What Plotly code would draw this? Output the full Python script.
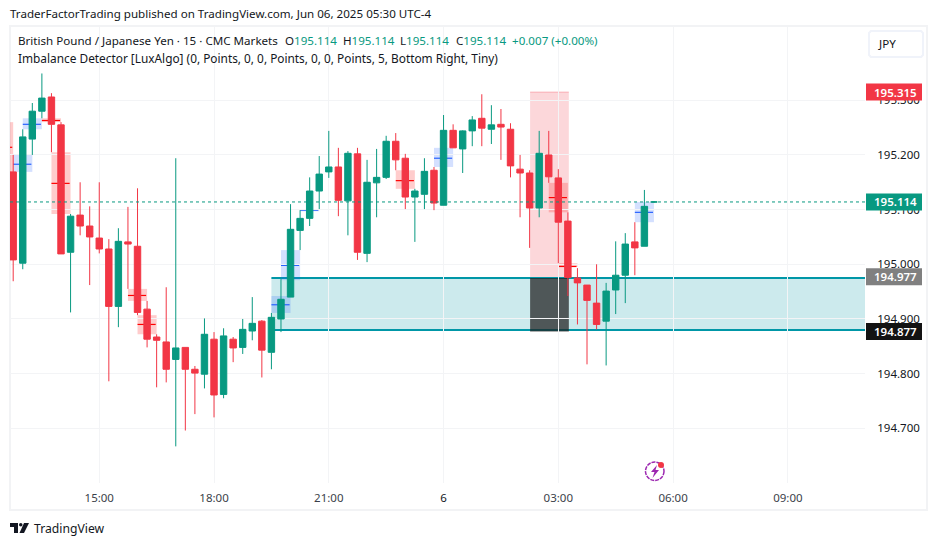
import pandas as pd
import plotly.graph_objects as go

# 15 minute bars, first one at 12:45
start_time = "2025-06-05 12:45"

opens = [195.169, 195.002, 195.229, 195.280, 195.306, 195.255, 195.022, 195.090, 195.070, 195.048,
         195.028, 194.923, 195.041, 195.033, 194.918, 194.867, 194.858, 194.826, 194.848, 194.808,
         194.799, 194.863, 194.762, 194.863, 194.848, 194.878, 194.896, 194.839, 194.900, 194.940,
         195.062, 195.084, 195.134, 195.169, 195.178, 195.116, 195.202, 195.020, 195.149, 195.159,
         195.225, 195.194, 195.123, 195.128, 195.172, 195.108, 195.245, 195.211, 195.244, 195.267,
         195.247, 195.256, 195.247, 195.174, 195.167, 195.103, 195.200, 195.158, 195.079, 194.975,
         194.962, 194.929, 194.896, 194.953, 194.980, 195.041, 195.033, 195.114]
highs = [195.200, 195.247, 195.295, 195.349, 195.313, 195.260, 195.092, 195.150, 195.106, 195.150,
         195.046, 195.066, 195.105, 195.139, 194.933, 194.872, 194.958, 195.194, 194.848, 194.814,
         194.901, 194.876, 194.883, 194.867, 194.900, 194.940, 194.898, 194.911, 194.973, 195.110,
         195.099, 195.159, 195.198, 195.244, 195.213, 195.207, 195.213, 195.191, 195.211, 195.235,
         195.240, 195.202, 195.138, 195.194, 195.178, 195.273, 195.256, 195.245, 195.271, 195.311,
         195.291, 195.284, 195.258, 195.200, 195.172, 195.244, 195.244, 195.174, 195.095, 194.993,
         194.962, 195.000, 194.966, 195.042, 195.057, 195.077, 195.136, 195.114]
lows = [194.969, 194.991, 195.200, 195.267, 195.205, 195.019, 194.912, 195.053, 194.962, 195.020,
        194.786, 194.885, 194.955, 194.907, 194.848, 194.775, 194.784, 194.667, 194.696, 194.726,
        194.773, 194.720, 194.755, 194.821, 194.836, 194.861, 194.793, 194.808, 194.876, 194.940,
        195.026, 195.070, 195.101, 195.158, 195.088, 195.053, 195.008, 195.004, 195.086, 195.156,
        195.172, 195.101, 195.041, 195.101, 195.099, 195.108, 195.213, 195.167, 195.216, 195.216,
        195.220, 195.191, 195.159, 195.086, 195.030, 195.086, 195.149, 195.002, 194.942, 194.890,
        194.817, 194.881, 194.815, 194.909, 194.929, 194.980, 195.033, 195.114]
closes = [195.008, 195.233, 195.280, 195.304, 195.256, 195.019, 195.088, 195.070, 195.050, 195.028,
          194.923, 195.042, 195.037, 194.912, 194.863, 194.861, 194.808, 194.847, 194.808, 194.801,
          194.872, 194.761, 194.869, 194.847, 194.881, 194.892, 194.843, 194.903, 194.936, 195.064,
          195.084, 195.134, 195.165, 195.178, 195.117, 195.203, 195.022, 195.150, 195.159, 195.225,
          195.191, 195.123, 195.134, 195.170, 195.112, 195.245, 195.213, 195.244, 195.264, 195.249,
          195.255, 195.251, 195.180, 195.167, 195.103, 195.203, 195.160, 195.077, 194.976, 194.966,
          194.934, 194.890, 194.951, 194.980, 195.037, 195.030, 195.106, 195.114]

# imbalance boxes: first bar, bottom, top, middle
blue_bars = [0, 1, 27, 28, 30, 44, 65]
blue_low = [195.169, 195.247, 194.911, 194.971, 195.097, 195.178, 195.077]
blue_high = [195.200, 195.267, 194.942, 195.026, 195.100, 195.213, 195.114]
blue_mid = [195.183, 195.256, 194.926, 194.998, 195.099, 195.194, 195.095]

red_bars = [-2, 3, 4, 12, 13, 40, 56, 57]
red_low = [195.167, 195.260, 195.092, 194.933, 194.872, 195.138, 195.095, 194.995]
red_high = [195.260, 195.267, 195.205, 194.955, 194.907, 195.172, 195.149, 195.002]
red_mid = [195.214, 195.263, 195.148, 194.943, 194.890, 195.153, 195.122, 194.996]

zone_low = 194.880
zone_high = 194.975
dark_low = 194.877
pink_high = 195.315
zone_start_bar = 27
pink_start_bar = 54.05
pink_end_bar = 58.1

last_price = 195.114
price_ticks = [194.7, 194.8, 194.9, 195.0, 195.1, 195.2, 195.3]
time_ticks = ["2025-06-05 15:00", "2025-06-05 18:00", "2025-06-05 21:00", "2025-06-06 00:00",
              "2025-06-06 03:00", "2025-06-06 06:00", "2025-06-06 09:00"]
time_labels = ["15:00", "18:00", "21:00", "<span style='color:#131722'>6</span>", "03:00", "06:00", "09:00"]
tag_prices = [195.315, 195.114, 194.977, 194.877]
tag_colors = ["#f23645", "#089981", "#808080", "#131313"]
tag_labels = ["195.315", "195.114", "194.977", "194.877"]

UP = "#089981"
DOWN = "#f23645"
FONT = "Noto Sans"
L, R, T, B = 10, 865, 27, 483


def bar_time(i):
    return pd.Timestamp(start_time) + pd.Timedelta(minutes=15 * i)


def px(x):
    return (x - L) / (R - L)


def py(y):
    return (B - y) / (B - T)


def page_path(points):
    out = "M " + " L ".join(f"{px(a):.5f},{py(b):.5f}" for a, b in points)
    return out + " Z"


def label(x, y, text, size=11.6, color="#131722", anchor="left"):
    return dict(x=px(x), y=py(y), xref="paper", yref="paper", text=text, showarrow=False,
                xanchor=anchor, yanchor="middle", font=dict(family=FONT, size=size, color=color),
                borderpad=0, borderwidth=0)


fig = go.Figure()
fig.add_trace(go.Candlestick(
    x=[bar_time(i) for i in range(len(opens))],
    open=opens, high=highs, low=lows, close=closes,
    increasing=dict(line=dict(color=UP, width=1), fillcolor=UP),
    decreasing=dict(line=dict(color=DOWN, width=1), fillcolor=DOWN),
    whiskerwidth=0,
))

shapes = []

# big imbalance area
shapes.append(dict(type="rect", layer="below", xref="x", yref="y",
                   x0=bar_time(zone_start_bar), x1=bar_time(100), y0=zone_low, y1=zone_high,
                   fillcolor="rgba(0,151,167,0.2)", line_width=0))
shapes.append(dict(type="rect", layer="below", xref="x", yref="y",
                   x0=bar_time(pink_start_bar), x1=bar_time(pink_end_bar), y0=zone_high, y1=pink_high,
                   fillcolor="rgba(242,54,69,0.2)", line_width=0))
shapes.append(dict(type="line", layer="below", xref="x", yref="y",
                   x0=bar_time(pink_start_bar), x1=bar_time(pink_end_bar), y0=pink_high, y1=pink_high,
                   line=dict(color="rgba(242,54,69,0.3)", width=1)))
for lvl in [zone_low, zone_high]:
    shapes.append(dict(type="line", layer="below", xref="x", yref="y",
                       x0=bar_time(zone_start_bar), x1=bar_time(100), y0=lvl, y1=lvl,
                       line=dict(color="#0097a7", width=2)))
shapes.append(dict(type="rect", layer="below", xref="x", yref="y",
                   x0=bar_time(pink_start_bar), x1=bar_time(pink_end_bar), y0=dark_low, y1=zone_high,
                   fillcolor="rgba(30,30,30,0.72)", line_width=0))

# small boxes with their middle line
for bar, lo, hi, mid in zip(blue_bars, blue_low, blue_high, blue_mid):
    shapes.append(dict(type="rect", layer="below", xref="x", yref="y", x0=bar_time(bar), x1=bar_time(bar + 2),
                       y0=lo, y1=hi, fillcolor="rgba(41,98,255,0.2)", line_width=0))
    shapes.append(dict(type="line", layer="below", xref="x", yref="y", x0=bar_time(bar), x1=bar_time(bar + 1.9),
                       y0=mid, y1=mid, line=dict(color="#2962ff", width=1.2)))
for bar, lo, hi, mid in zip(red_bars, red_low, red_high, red_mid):
    shapes.append(dict(type="rect", layer="below", xref="x", yref="y", x0=bar_time(bar), x1=bar_time(bar + 2),
                       y0=lo, y1=hi, fillcolor="rgba(255,0,0,0.2)", line_width=0))
    shapes.append(dict(type="line", layer="below", xref="x", yref="y", x0=bar_time(bar), x1=bar_time(bar + 1.9),
                       y0=mid, y1=mid, line=dict(color="#ff0000", width=1.2)))

# last price line
shapes.append(dict(type="line", layer="above", xref="paper", yref="y", x0=0, x1=1, y0=last_price, y1=last_price,
                   line=dict(color=UP, width=1, dash="dot")))

# frame around the chart, and the currency button
shapes.append(dict(type="rect", xref="paper", yref="paper", x0=px(10), x1=px(927), y0=py(510), y1=py(26),
                   line=dict(color="#f2f3f5", width=2), layer="below"))
shapes.append(dict(type="path", xref="paper", yref="paper", line=dict(color="#f0f3fa", width=2),
                   path=page_path([(871, 31), (921, 31), (923, 33), (923, 55), (921, 57), (871, 57), (869, 55), (869, 33)])))

# price tags on the axis
for price, col in zip(tag_prices, tag_colors):
    shapes.append(dict(type="rect", layer="above", xref="paper", yref="y", ysizemode="pixel", yanchor=price,
                       x0=px(866), x1=px(922), y0=-8.5, y1=8.5, fillcolor=col, line_width=0))

# lightning icon
shapes.append(dict(type="circle", xref="paper", yref="paper", x0=px(645.5), x1=px(664), y0=py(480.5), y1=py(462),
                   line=dict(color="#9c27b0", width=1.5, dash="4px,1px")))
shapes.append(dict(type="path", xref="paper", yref="paper", fillcolor="#9c27b0", line_width=0,
                   path=page_path([(657, 465), (651, 472), (654.5, 472), (652.5, 478), (659, 470), (655.5, 470)])))
shapes.append(dict(type="circle", xref="paper", yref="paper", x0=px(658), x1=px(664), y0=py(468), y1=py(462),
                   fillcolor="#f23645", line_width=0))

# logo
shapes.append(dict(type="path", xref="paper", yref="paper", fillcolor="#131722", line_width=0,
                   path=page_path([(10, 523), (18, 523), (18, 533), (14, 533), (14, 527), (10, 527)])))
shapes.append(dict(type="circle", xref="paper", yref="paper", x0=px(19), x1=px(22.5), y0=py(526.5), y1=py(523),
                   fillcolor="#131722", line_width=0))
shapes.append(dict(type="path", xref="paper", yref="paper", fillcolor="#131722", line_width=0,
                   path=page_path([(24, 523), (29, 523), (24, 533), (19.5, 533)])))

notes = [
    label(10, 13, "TraderFactorTrading published on TradingView.com, Jun 06, 2025 05:30 UTC-4"),
    label(18, 41, "British Pound / Japanese Yen · 15 · CMC Markets"),
    label(285, 41, "O<span style='color:#089981'>195.114</span>"),
    label(343, 41, "H<span style='color:#089981'>195.114</span>"),
    label(400, 41, "L<span style='color:#089981'>195.114</span>"),
    label(456, 41, "C<span style='color:#089981'>195.114</span>"),
    label(512, 41, "+0.007 (+0.00%)", color="#089981"),
    label(18, 58, "Imbalance Detector [LuxAlgo] (0, Points, 0, 0, Points, 0, 0, Points, 5, Bottom Right, Tiny)", size=11.85),
    label(878, 44, "JPY"),
    label(34, 528, "TradingView", size=12.2),
]
for price, text in zip(tag_prices, tag_labels):
    notes.append(dict(x=px(895), y=price, xref="paper", yref="y", text=text, showarrow=False,
                      xanchor="center", yanchor="middle",
                      font=dict(family=FONT, size=11.5, color="white", weight=600)))

fig.update_layout(
    width=937, height=546, autosize=False,
    margin=dict(l=L, r=937 - R, t=T, b=546 - B, pad=0),
    paper_bgcolor="white", plot_bgcolor="white",
    showlegend=False, boxgap=0.33, boxgroupgap=0,
    font=dict(family=FONT, size=11.5, color="#131722"),
    shapes=shapes, annotations=notes,
)
fig.update_xaxes(
    range=[pd.Timestamp("2025-06-05 12:40"), pd.Timestamp("2025-06-06 11:01")],
    rangeslider_visible=False, tickmode="array", tickvals=time_ticks, ticktext=time_labels,
    showgrid=True, gridcolor="#f3f4f6", gridwidth=1, zeroline=False, showline=False,
    ticks="outside", ticklen=4, tickcolor="rgba(0,0,0,0)", tickfont=dict(color="#3b3f4a"),
)
fig.update_yaxes(
    range=[194.600, 195.434], side="right", tickmode="array", tickvals=price_ticks, tickformat=".3f",
    showgrid=True, gridcolor="#f3f4f6", gridwidth=1, zeroline=False, showline=False,
    ticks="outside", ticklen=9, tickcolor="rgba(0,0,0,0)",
)

fig.write_html("out.html", config=dict(displayModeBar=False),
               post_script="document.body.style.margin='0';")
